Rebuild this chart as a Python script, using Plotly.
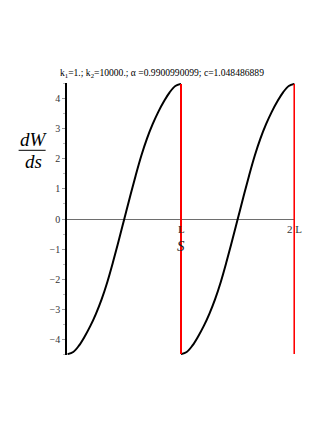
import plotly.graph_objects as go

# s/L positions within one period and dW/ds values
s_frac = [0.00, 0.05, 0.10, 0.15, 0.20, 0.25, 0.30, 0.35, 0.40, 0.45, 0.50,
          0.55, 0.60, 0.65, 0.70, 0.75, 0.80, 0.85, 0.90, 0.95, 1.00]
dWds = [-4.49, -4.42, -4.21, -3.91, -3.56, -3.15, -2.67, -2.10, -1.44, -0.73, 0.00,
        0.73, 1.44, 2.10, 2.67, 3.15, 3.56, 3.91, 4.21, 4.42, 4.49]
periods = [0, 1]
jump_x = [1, 2]
jump_top = [4.49, 4.49]
jump_bottom = [-4.49, -4.49]
y_ticks = [-4, -3, -2, -1, 0, 1, 2, 3, 4]
x_tick_pos = [1, 2]
x_tick_text = ["L", "2 L"]
title_text = ("k<sub>1</sub>=1.; k<sub>2</sub>=10000.; \u03b1 =0.9900990099; c=1.048486889")

SERIF = "Liberation Serif, Times New Roman, serif"

# plot area in target pixels (page has an 8px body margin)
PX0, PX1, PY0, PY1 = 67.4, 295.5, 83.4, 354.6
def px(x):
    return (x - PX0) / (PX1 - PX0)
def py(y):
    return (PY1 - y) / (PY1 - PY0)

fig = go.Figure()
for p in periods:
    fig.add_trace(go.Scatter(
        x=[p + s for s in s_frac], y=dWds, mode="lines",
        line=dict(color="black", width=2, shape="spline", smoothing=1.0),
        showlegend=False, hoverinfo="skip"))
for xj, yt, yb in zip(jump_x, jump_top, jump_bottom):
    fig.add_trace(go.Scatter(
        x=[xj, xj], y=[yt, yb], mode="lines",
        line=dict(color="#ff0000", width=2),
        showlegend=False, hoverinfo="skip"))

fig.update_layout(
    width=319, height=415,
    margin=dict(l=PX0 - 8, r=31.5, t=PY0 - 8, b=68.4, pad=0),
    paper_bgcolor="white", plot_bgcolor="white",
    showlegend=False,
    font=dict(family=SERIF, size=10, color="#333333"),
    xaxis=dict(range=[-0.005, 2.005], showgrid=False, zeroline=False,
               showline=False, showticklabels=False, ticks=""),
    yaxis=dict(range=[-4.52, 4.52], showgrid=False,
               zeroline=True, zerolinecolor="#6e6e6e", zerolinewidth=1.2,
               showline=True, linecolor="black", linewidth=1.5,
               tickvals=y_ticks, ticks="outside", ticklen=3, tickcolor="#999999",
               tickfont=dict(family=SERIF, size=10, color="#333333"),
               minor=dict(dtick=0.5, ticks="outside", ticklen=2, tickcolor="#bbbbbb")),
)

annotations = []
for xp, txt in zip(x_tick_pos, x_tick_text):
    annotations.append(dict(x=xp, y=0, xref="x", yref="y", text=txt,
                            showarrow=False, yshift=-10,
                            xanchor="center", yanchor="middle",
                            font=dict(family=SERIF, size=11, color="#333333")))
annotations.append(dict(x=1, y=0, xref="x", yref="y", text="<i>S</i>",
                        showarrow=False, yshift=-27,
                        xanchor="center", yanchor="middle",
                        font=dict(family=SERIF, size=15, color="#222222")))
annotations.append(dict(x=px(162.5), y=py(73), xref="paper", yref="paper",
                        text=title_text, showarrow=False,
                        xanchor="center", yanchor="middle",
                        font=dict(family=SERIF, size=9.6, color="black")))
annotations.append(dict(x=px(34), y=py(140), xref="paper", yref="paper",
                        text="<i>dW</i>", showarrow=False,
                        xanchor="center", yanchor="middle",
                        font=dict(family=SERIF, size=19, color="black")))
annotations.append(dict(x=px(33.5), y=py(162), xref="paper", yref="paper",
                        text="<i>ds</i>", showarrow=False,
                        xanchor="center", yanchor="middle",
                        font=dict(family=SERIF, size=19, color="black")))
fig.update_layout(annotations=annotations)
fig.add_shape(type="line", xref="paper", yref="paper",
              x0=px(19), x1=px(46), y0=py(150.5), y1=py(150.5),
              line=dict(color="black", width=1))

fig.write_html("out.html")
